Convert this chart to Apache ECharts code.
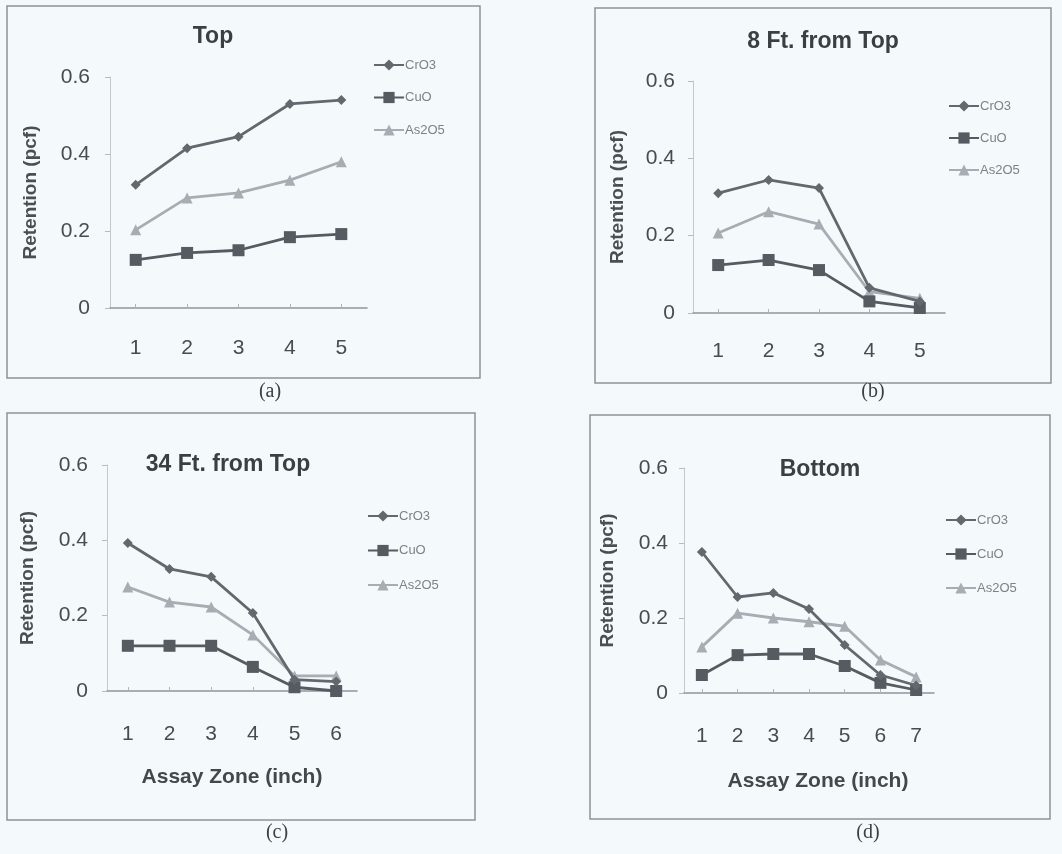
<!DOCTYPE html>
<html>
<head>
<meta charset="utf-8">
<script src="https://cdn.jsdelivr.net/npm/echarts@6/dist/echarts.min.js"></script>
<style>
  html, body { margin: 0; padding: 0; background: #f4f9fc; }
  #chart { width: 1062px; height: 854px; }
</style>
</head>
<body>
<div id="chart"></div>
<script>
// ---- data ----
const seriesNames = ['CrO3', 'CuO', 'As2O5'];
const panelTitles = ['Top', '8 Ft. from Top', '34 Ft. from Top', 'Bottom'];
const panelCaptions = ['(a)', '(b)', '(c)', '(d)'];
const yTicks = [0, 0.2, 0.4, 0.6];
const xAxisTitle = 'Assay Zone (inch)';
const yAxisTitle = 'Retention (pcf)';

const catsA = ['1', '2', '3', '4', '5'];
const A_CrO3 = [0.32, 0.415, 0.445, 0.53, 0.54];
const A_CuO = [0.125, 0.143, 0.15, 0.184, 0.192];
const A_As2O5 = [0.203, 0.286, 0.299, 0.332, 0.38];

const catsB = ['1', '2', '3', '4', '5'];
const B_CrO3 = [0.31, 0.344, 0.323, 0.065, 0.03];
const B_CuO = [0.124, 0.137, 0.111, 0.03, 0.013];
const B_As2O5 = [0.207, 0.262, 0.23, 0.055, 0.038];

const catsC = ['1', '2', '3', '4', '5', '6'];
const C_CrO3 = [0.393, 0.324, 0.303, 0.207, 0.03, 0.025];
const C_CuO = [0.12, 0.12, 0.12, 0.064, 0.01, 0.0];
const C_As2O5 = [0.276, 0.236, 0.223, 0.149, 0.04, 0.04];

const catsD = ['1', '2', '3', '4', '5', '6', '7'];
const D_CrO3 = [0.376, 0.256, 0.267, 0.224, 0.128, 0.048, 0.02];
const D_CuO = [0.048, 0.101, 0.104, 0.104, 0.072, 0.027, 0.008];
const D_As2O5 = [0.123, 0.213, 0.2, 0.19, 0.178, 0.088, 0.043];

// ---- layout ----
const narrow = "'Liberation Sans Narrow', 'Liberation Sans', Arial, sans-serif";
const sans = "'Liberation Sans', Arial, sans-serif";
const serif = "'Liberation Serif', 'Times New Roman', serif";

const panels = [
  { cats: catsA, data: [A_CrO3, A_CuO, A_As2O5], grid: { left: 110, top: 77, width: 257, height: 231 },
    title: { x: 213, y: 25 }, legend: { x: 373, y: 58, gap: 18.5 }, yGap: 70, xMargin: 30, yMargin: 20, xName: false,
    box: [7, 6, 473, 372], cap: [270, 392] },
  { cats: catsB, data: [B_CrO3, B_CuO, B_As2O5], grid: { left: 693, top: 81, width: 252, height: 232 },
    title: { x: 823, y: 30 }, legend: { x: 948, y: 99, gap: 18 }, yGap: 66, xMargin: 28, yMargin: 18, xName: false,
    box: [595, 8, 456, 375], cap: [873, 392] },
  { cats: catsC, data: [C_CrO3, C_CuO, C_As2O5], grid: { left: 107, top: 465, width: 250, height: 226 },
    title: { x: 228, y: 453 }, legend: { x: 367, y: 509, gap: 20.5 }, yGap: 70, xMargin: 33, yMargin: 19, xName: true, xNameGap: 76, xNamePad: 0,
    box: [7, 413, 468, 407], cap: [277, 833] },
  { cats: catsD, data: [D_CrO3, D_CuO, D_As2O5], grid: { left: 684, top: 468, width: 250, height: 225 },
    title: { x: 820, y: 458 }, legend: { x: 945, y: 513, gap: 20 }, yGap: 67, xMargin: 33, yMargin: 16, xName: true, xNameGap: 78, xNamePad: 18,
    box: [590, 415, 460, 404], cap: [868, 833] }
];

const styles = [
  { color: '#62686e', symbol: 'diamond', size: 10 },
  { color: '#555b61', symbol: 'rect', size: 12 },
  { color: '#a7adb3', symbol: 'triangle', size: 11 }
];

const option = {
  backgroundColor: '#f4f9fc',
  animation: false,
  title: [], legend: [], grid: [], xAxis: [], yAxis: [], series: [],
  graphic: []
};

panels.forEach((p, i) => {
  option.grid.push(Object.assign({ containLabel: false }, p.grid));
  option.title.push({
    text: panelTitles[i], left: p.title.x, top: p.title.y, textAlign: 'center', padding: 0,
    textStyle: { fontFamily: sans, fontSize: 23, fontWeight: 'bold', color: '#3a3f44' }
  });
  option.legend.push({
    orient: 'vertical', left: p.legend.x, top: p.legend.y, padding: 0,
    itemWidth: 30, itemHeight: 14, itemGap: p.legend.gap,
    data: seriesNames,
    textStyle: { fontFamily: sans, fontSize: 13, color: '#7d8287', padding: [0, 0, 0, -4], lineHeight: 14 }
  });
  option.xAxis.push({
    type: 'category', gridIndex: i, data: p.cats, boundaryGap: true,
    axisLine: { lineStyle: { color: '#8f959a', width: 1.5 } },
    axisTick: { show: true, alignWithLabel: true, inside: true, length: 4, lineStyle: { color: '#b0b5b9' } },
    axisLabel: { fontFamily: narrow, fontSize: 21, color: '#474c51', margin: p.xMargin },
    name: p.xName ? xAxisTitle : '', nameLocation: 'middle', nameGap: p.xNameGap || 0,
    nameTextStyle: { fontFamily: sans, fontSize: 21, fontWeight: 'bold', color: '#43484d', padding: [0, 0, 0, p.xNamePad || 0] }
  });
  option.yAxis.push({
    type: 'value', gridIndex: i, min: 0, max: 0.6, interval: 0.2,
    splitLine: { show: false },
    axisLine: { show: true, lineStyle: { color: '#c3c8cc', width: 1 } },
    axisTick: { show: true, length: 5, lineStyle: { color: '#b6bbbf' } },
    axisLabel: { fontFamily: narrow, fontSize: 21, color: '#474c51', margin: p.yMargin,
      formatter: v => String(Math.round(v * 10) / 10) },
    name: yAxisTitle, nameLocation: 'middle', nameGap: p.yGap, nameRotate: 90,
    nameTextStyle: { fontFamily: sans, fontSize: 19, fontWeight: 'bold', color: '#4a4f54' }
  });
  p.data.forEach((vals, k) => {
    option.series.push({
      type: 'line', name: seriesNames[k], xAxisIndex: i, yAxisIndex: i,
      data: vals, symbol: styles[k].symbol, symbolSize: styles[k].size, showSymbol: true,
      lineStyle: { color: styles[k].color, width: 2.8 },
      itemStyle: { color: styles[k].color },
      z: 3 - k
    });
  });
  option.graphic.push({
    type: 'rect', shape: { x: p.box[0], y: p.box[1], width: p.box[2], height: p.box[3] },
    style: { fill: 'none', stroke: '#8d9296', lineWidth: 1.5 }, silent: true
  });
  option.graphic.push({
    type: 'text', x: p.cap[0], y: p.cap[1],
    style: { text: panelCaptions[i], font: '20px ' + serif, fill: '#3c4146', textAlign: 'center', textVerticalAlign: 'middle' },
    silent: true
  });
});

const chart = echarts.init(document.getElementById('chart'), null, { renderer: 'canvas' });
chart.setOption(option);
</script>
</body>
</html>
